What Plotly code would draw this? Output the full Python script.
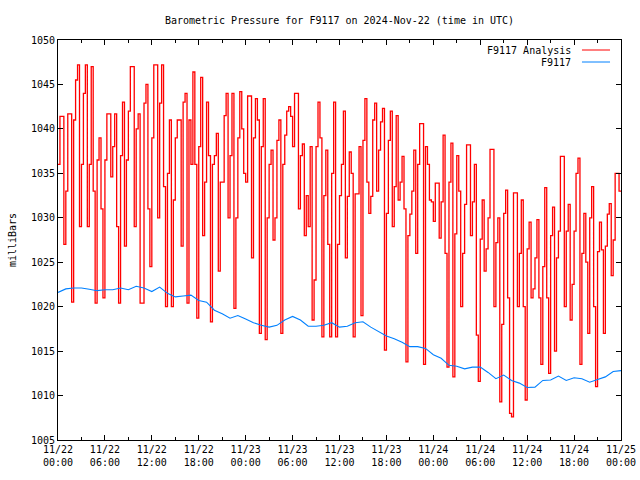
import plotly.graph_objects as go

# ---- data ----
start_hour = 0.0
red_step_hours = 0.25   # analysis values every 15 min
blue_step_hours = 1.0   # observations hourly

red_values = [
    1036, 1041.4, 1041.4, 1027, 1033, 1041.7, 1041.7, 1020.5, 1041, 1045.5,
    1047.2, 1029, 1036, 1044, 1047.2, 1029, 1036, 1047, 1033, 1020.4,
    1036.5, 1039, 1031, 1021, 1036.5, 1041.7, 1041.7, 1034.6, 1038, 1041.7,
    1029, 1020.4, 1037, 1043, 1026.8, 1036.5, 1042, 1047, 1047, 1029,
    1040, 1041.7, 1020.4, 1020.4, 1042.9, 1045, 1031, 1024.5, 1039, 1047.2,
    1047.2, 1030, 1042.9, 1047.2, 1033.5, 1020, 1035, 1041, 1020, 1032,
    1039, 1041, 1041, 1026.8, 1043, 1044, 1020.4, 1041, 1036, 1046.4,
    1036, 1018.7, 1038,
    1045.8, 1028, 1034, 1043, 1037, 1018.3, 1036, 1037, 1039.5, 1024,
    1034, 1034, 1041.5, 1044, 1030, 1037, 1044, 1019.8, 1030, 1039,
    1044.2, 1040, 1035, 1034, 1043.7, 1043.7, 1025.5, 1039, 1043.4, 1041,
    1017, 1038, 1043.4, 1016.3, 1030, 1036, 1037.6, 1027.5, 1030, 1038.7,
    1041, 1017, 1036, 1039.3, 1042, 1042.5, 1041.4, 1038, 1044, 1044,
    1031, 1037, 1038.3, 1028, 1032.5, 1029, 1038, 1018.5, 1023, 1038,
    1043, 1039, 1016.6, 1032.5, 1037.6, 1027, 1016.6, 1035, 1043, 1016.6,
    1027, 1032.5,
    1036, 1042, 1025.5, 1032.4, 1037.4, 1035, 1016.6, 1032.7, 1032.7, 1038,
    1019, 1038.7, 1043.4, 1034, 1030.5, 1032.4, 1041, 1042.9, 1033, 1037.6,
    1040.8, 1042.3, 1015.1, 1030.5, 1038.7, 1042, 1029, 1033.5, 1041.5, 1032,
    1034, 1036.9, 1031, 1013.8, 1028, 1030.4, 1033, 1037.6, 1026, 1036,
    1040.6, 1040.6, 1013.5, 1038, 1036, 1032, 1031.8, 1029.6, 1033.9, 1033.9,
    1027.7, 1031.8, 1039.3, 1026, 1013.2, 1034, 1038.4, 1012.1, 1028.2, 1037,
    1033, 1020, 1026, 1031.5, 1038.2, 1038.2, 1028, 1031.8, 1036, 1016.8,
    1011.6, 1027.6,
    1032, 1024, 1026.5, 1030, 1037.7, 1037.7, 1020, 1027.2, 1030, 1009.3,
    1018, 1030.5, 1033.1, 1021, 1008, 1007.6, 1032.8, 1032.8, 1020, 1026,
    1032, 1020, 1009.5, 1026.5, 1029.5, 1021, 1022, 1025.5, 1029.8, 1021,
    1013.5, 1024.5, 1033.4, 1021, 1012.5, 1028, 1031.2, 1015, 1025.5, 1028.5,
    1036.9, 1036.9, 1020, 1028.5, 1031.5, 1018.5, 1022.5, 1028.5, 1035, 1036.7,
    1013.5, 1026, 1030.5, 1025, 1017, 1030, 1033.5, 1020, 1011, 1026.2,
    1029.5, 1026.4, 1017, 1026.8, 1030.4, 1031.6, 1023.5, 1027.5, 1035, 1035,
    1033, 1033,
]

blue_values = [
    1021.6, 1022.0, 1022.1, 1022.1, 1021.95, 1021.8, 1021.9, 1021.9, 1022.1, 1021.9,
    1022.3, 1022.1, 1021.7, 1022.2, 1021.5, 1021.1, 1021.2, 1021.3, 1020.7, 1020.5,
    1019.6, 1019.2, 1018.7, 1019.0, 1018.6, 1018.2, 1017.9, 1017.7, 1017.9, 1018.5,
    1018.9, 1018.5, 1017.8, 1017.8, 1017.9, 1018.2, 1017.7, 1017.8, 1018.2, 1018.3,
    1017.7, 1017.2, 1016.7, 1016.4, 1016.0, 1015.5, 1015.5, 1015.3, 1014.6, 1014.2,
    1013.4, 1013.3, 1013.0, 1013.2, 1013.2, 1012.6, 1011.9, 1012.3, 1011.7, 1011.4,
    1010.9, 1010.95, 1011.7, 1011.75, 1012.2, 1011.7, 1012.0, 1011.9, 1011.5, 1011.8,
    1012.1, 1012.7, 1012.8,
]

x_tick_vals = [0, 6, 12, 18, 24, 30, 36, 42, 48, 54, 60, 66, 72]
x_tick_text = [
    "11/22<br>00:00", "11/22<br>06:00", "11/22<br>12:00", "11/22<br>18:00",
    "11/23<br>00:00", "11/23<br>06:00", "11/23<br>12:00", "11/23<br>18:00",
    "11/24<br>00:00", "11/24<br>06:00", "11/24<br>12:00", "11/24<br>18:00",
    "11/25<br>00:00",
]
y_tick_vals = [1005, 1010, 1015, 1020, 1025, 1030, 1035, 1040, 1045, 1050]

series_names = ["F9117 Analysis", "F9117"]
series_colors = ["#ff0000", "#0080ff"]

red_x = [start_hour + i * red_step_hours for i in range(len(red_values))]
blue_x = [start_hour + i * blue_step_hours for i in range(len(blue_values))]

FONT = "DejaVu Sans Mono"

fig = go.Figure()
fig.add_trace(go.Scatter(x=red_x, y=red_values, mode="lines", line_shape="hv",
                         line=dict(color=series_colors[0], width=1.3),
                         name=series_names[0], showlegend=False))
fig.add_trace(go.Scatter(x=blue_x, y=blue_values, mode="lines",
                         line=dict(color=series_colors[1], width=1.1),
                         name=series_names[1], showlegend=False))

axis_common = dict(showline=True, linecolor="black", linewidth=1, mirror="allticks",
                   ticks="inside", tickcolor="black", showgrid=False, zeroline=False,
                   automargin=False,
                   tickfont=dict(family=FONT, size=10, color="black"))

fig.update_xaxes(range=[0, 72], tickmode="array", tickvals=x_tick_vals, ticktext=x_tick_text,
                 ticklen=5, minor=dict(ticks="inside", dtick=3, tick0=0, ticklen=3,
                                       tickcolor="black", showgrid=False),
                 **axis_common)
fig.update_yaxes(range=[1005, 1050], tickmode="array", tickvals=y_tick_vals, ticklen=5,
                 title=dict(text="milliBars", font=dict(family=FONT, size=10, color="black"),
                            standoff=12),
                 **axis_common)

# legend drawn gnuplot-style (text then sample on the right)
legend_rows_y = [0.975, 0.945]
for name, color, yy in zip(series_names, series_colors, legend_rows_y):
    fig.add_annotation(xref="paper", yref="paper", x=0.9147, y=yy, text=name,
                       showarrow=False, xanchor="right", yanchor="middle",
                       font=dict(family=FONT, size=10, color="black"))
    fig.add_shape(type="line", xref="paper", yref="paper", x0=0.9307, x1=0.9805,
                  y0=yy, y1=yy, line=dict(color=color, width=1))

fig.update_layout(
    width=640, height=480,
    margin=dict(l=58, r=19, t=40, b=40),
    paper_bgcolor="white", plot_bgcolor="white",
    title=dict(text="Barometric Pressure for F9117 on 2024-Nov-22 (time in UTC)",
               x=(58 + 621) / 2 / 640, xanchor="center", y=1 - 20 / 480, yanchor="middle",
               font=dict(family=FONT, size=10, color="black")),
    showlegend=False,
)

fig.write_html("out.html", config={"displayModeBar": False},
               post_script="document.body.style.margin='0px';")
